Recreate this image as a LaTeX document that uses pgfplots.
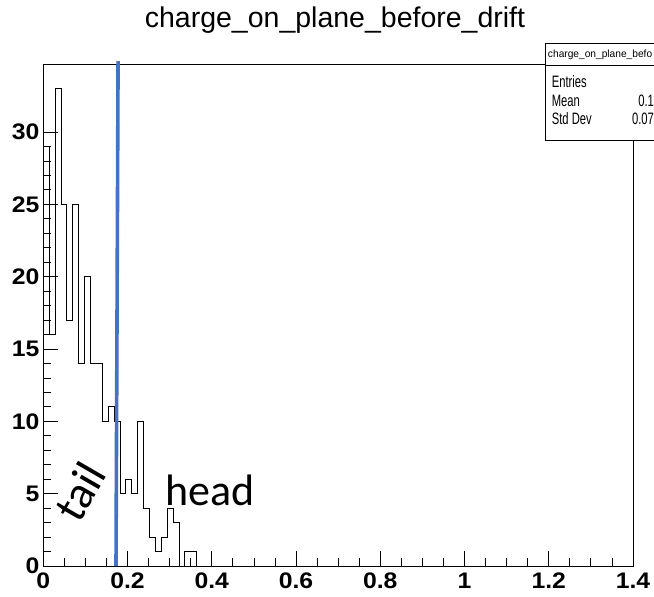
\documentclass[border=0pt]{standalone}
\usepackage{fontspec}
\setmainfont{Liberation Sans}
\newfontfamily\calibri{Carlito}
\usepackage{pgfplots}
\usepackage{pgfplotstable}
\pgfplotsset{compat=1.18}
\definecolor{lineblue}{RGB}{68,114,196}
\pgfplotstableread{
x y
0.000 29
0.014 16
0.028 33
0.042 25
0.056 17
0.070 25
0.084 14
0.098 20
0.112 14
0.126 14
0.140 10
0.154 11
0.168 10
0.182 5
0.196 6
0.210 5
0.224 10
0.238 4
0.252 2
0.266 1
0.280 2
0.294 4
0.308 3
0.322 0
0.336 1
0.350 1
0.364 0
1.400 0
}\histdata
\begin{document}
\begin{tikzpicture}
\useasboundingbox (-43.3pt,-31pt) rectangle (610.7pt,566pt);
\begin{axis}[
  at={(0pt,0pt)}, anchor=south west,
  scale only axis, width=589.7pt, height=501.3pt,
  xmin=0, xmax=1.4, ymin=0, ymax=34.65,
  xtick={0,0.2,0.4,0.6,0.8,1,1.2,1.4},
  ytick={0,5,10,15,20,25,30},
  minor x tick num=3, minor y tick num=4,
  tick pos=left, tick align=inside,
  major tick length=15pt, minor tick length=7.5pt,
  axis line style={black, line width=0.8pt},
  every tick/.style={black, line width=0.8pt},
  /pgf/number format/assume math mode=true,
  /pgf/number format/fixed,
  ticklabel style={font=\fontsize{22.5}{22.5}\selectfont\bfseries, xscale=1.1},
  xticklabel style={yshift=-3pt},
  clip=false,
]
\addplot[const plot, black, line width=0.8pt] table[x=x,y=y] {\histdata};
\addplot[lineblue, line width=3.6pt] coordinates {(0.1726,0) (0.1775,34.9)};
\node[font=\calibri\fontsize{46}{46}\selectfont, rotate=60] at (axis cs:0.087,5.13) {tail};
\node[font=\calibri\fontsize{44}{44}\selectfont, anchor=base west, inner sep=0pt] at (axis cs:0.29,4.16) {head};
\end{axis}
\node[font=\fontsize{28.5}{30}\selectfont] at (291.7pt,546pt) {charge\_on\_plane\_before\_drift};
\fill[white] (501.7pt,426pt) rectangle (616pt,522.7pt);
\draw[line width=0.8pt] (616pt,426pt) -- (501.7pt,426pt) -- (501.7pt,522.7pt) -- (616pt,522.7pt);
\draw[line width=0.8pt] (501.7pt,501pt) -- (616pt,501pt);
\node[font=\fontsize{10.5}{10.5}\selectfont, anchor=west, inner sep=0pt, xscale=0.97] at (504.5pt,511.5pt) {charge\_on\_plane\_befo};
\node[font=\fontsize{16.5}{16.5}\selectfont, anchor=west, inner sep=0pt, xscale=0.68] at (508.4pt,484pt) {Entries};
\node[font=\fontsize{16.5}{16.5}\selectfont, anchor=west, inner sep=0pt, xscale=0.68] at (508.4pt,465.5pt) {Mean};
\node[font=\fontsize{16.5}{16.5}\selectfont, anchor=west, inner sep=0pt, xscale=0.68] at (508.4pt,447pt) {Std Dev};
\node[font=\fontsize{16.5}{16.5}\selectfont, anchor=east, inner sep=0pt, xscale=0.68] at (610.7pt,465.5pt) {0.1};
\node[font=\fontsize{16.5}{16.5}\selectfont, anchor=east, inner sep=0pt, xscale=0.68] at (610.7pt,447pt) {0.07};
\end{tikzpicture}
\end{document}
